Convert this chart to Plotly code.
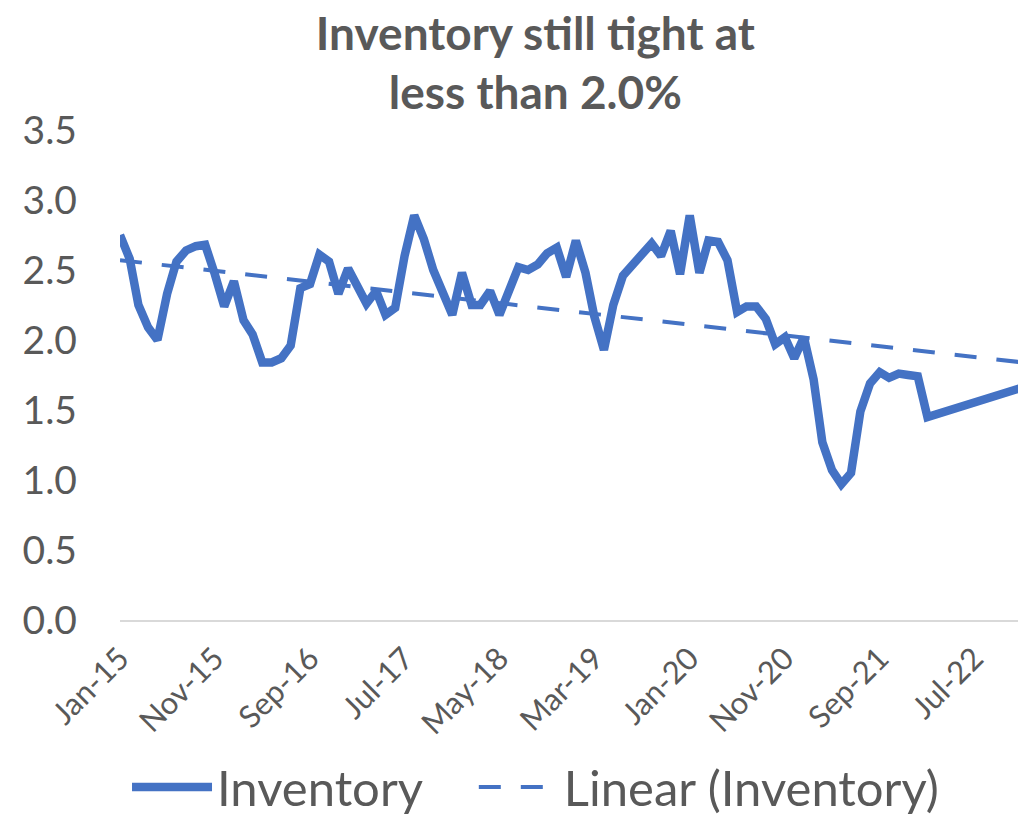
import numpy as np
import pandas as pd
import plotly.graph_objects as go

# ---- data ----
dates = [d.strftime("%Y-%m-%d") for d in pd.date_range("2015-01-01", "2022-02-01", freq="MS")] + ["2022-12-01"]
inventory = [
    2.75, 2.58, 2.25, 2.09, 2.00, 2.33, 2.56, 2.64, 2.67, 2.68,
    2.47, 2.24, 2.42, 2.14, 2.04, 1.84, 1.84, 1.87, 1.96, 2.37,
    2.40, 2.61, 2.56, 2.33, 2.51, 2.38, 2.26, 2.35, 2.18, 2.23,
    2.60, 2.89, 2.72, 2.50, 2.34, 2.18, 2.48, 2.25, 2.25, 2.35,
    2.18, 2.37, 2.52, 2.50, 2.54, 2.62, 2.66, 2.45, 2.71, 2.48,
    2.17, 1.93, 2.25, 2.46, 2.54, 2.61, 2.69, 2.60, 2.78, 2.47,
    2.89, 2.48, 2.71, 2.70, 2.57, 2.20, 2.24, 2.24, 2.15, 1.97,
    2.02, 1.87, 2.02, 1.72, 1.27, 1.07, 0.97, 1.05, 1.49, 1.69,
    1.77, 1.73, 1.76, 1.75, 1.74, 1.45,
    1.66,
]
tick_vals = ["2015-01-01", "2015-11-01", "2016-09-01", "2017-07-01", "2018-05-01",
             "2019-03-01", "2020-01-01", "2020-11-01", "2021-09-01", "2022-07-01"]
tick_text = ["Jan-15", "Nov-15", "Sep-16", "Jul-17", "May-18",
             "Mar-19", "Jan-20", "Nov-20", "Sep-21", "Jul-22"]
y_ticks = [0.0, 0.5, 1.0, 1.5, 2.0, 2.5, 3.0, 3.5]

# linear trend (like Excel's linear trendline on a date axis)
dt = pd.to_datetime(dates)
xnum = (dt - dt[0]).days.values.astype(float)
slope, intercept = np.polyfit(xnum, np.array(inventory), 1)
trend_x = [dates[0], dates[-1]]
trend_y = [intercept + slope * xnum[0], intercept + slope * xnum[-1]]

BLUE = "#4472C4"
GREY = "#595959"
FONT = "Lato"

fig = go.Figure()
fig.add_trace(go.Scatter(
    x=dates, y=inventory, mode="lines", name="Inventory",
    line=dict(color=BLUE, width=8.5), legend="legend",
))
fig.add_trace(go.Scatter(
    x=trend_x, y=trend_y, mode="lines", name="Linear (Inventory)",
    line=dict(color=BLUE, width=4, dash="22px,20px"), legend="legend2",
))

legend_common = dict(
    orientation="h", xanchor="left", xref="container",
    y=-0.341, yanchor="middle",
    font=dict(family=FONT, size=49, color=GREY),
    itemwidth=80, bgcolor="rgba(0,0,0,0)",
)

fig.update_layout(
    width=1026, height=814,
    margin=dict(l=112, r=12, t=122, b=202, autoexpand=False),
    paper_bgcolor="white", plot_bgcolor="white",
    font=dict(family=FONT, color=GREY),
    title=dict(
        text="<b>Inventory still tight at<br>less than 2.0%</b>",
        x=0.514, xanchor="center", xref="container",
        y=0.949, yanchor="middle", yref="container",
        font=dict(family=FONT, size=46, color=GREY),
    ),
    showlegend=True,
    legend=dict(x=0.116, **legend_common),
    legend2=dict(x=0.454, **legend_common),
)
fig.update_xaxes(
    type="date",
    range=[dates[0], dates[-1]],
    tickvals=tick_vals, ticktext=tick_text,
    tickangle=-45,
    tickfont=dict(family=FONT, size=31, color=GREY),
    showgrid=False, zeroline=False,
    showline=True, linecolor="#D9D9D9", linewidth=2,
    ticks="", ticklabelstandoff=6, automargin=False,
)
fig.update_yaxes(
    range=[0, 3.5],
    tickvals=y_ticks, tickformat=".1f",
    tickfont=dict(family=FONT, size=39, color=GREY),
    showgrid=False, zeroline=False, showline=False,
    ticks="", ticklabelstandoff=42, automargin=False,
)

fig.write_html("out.html")
